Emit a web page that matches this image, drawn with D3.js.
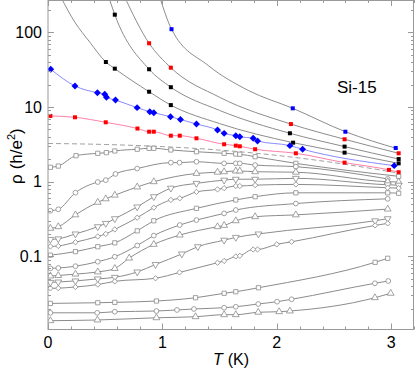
<!DOCTYPE html>
<html>
<head>
<meta charset="utf-8">
<script src="https://cdn.jsdelivr.net/npm/d3@7"></script>
<style>
  body { margin: 0; background: #fff; }
  text { font-family: "Liberation Sans", Arial, sans-serif; }
</style>
</head>
<body>
<div id="chart"></div>
<script>
// ---- data ----
// insulating side: coloured markers + gray fit lines
const c1T = [1.08, 2.14, 2.60, 3.04];
const c1Rho = [110, 9.6, 4.67, 2.83];
const c1LineT = [0.97, 1.08, 1.4, 1.75, 2.14, 2.60, 3.06];
const c1LineRho = [320, 110, 36, 16.7, 9.6, 4.67, 2.75];

const c2T = [0.884, 1.074, 2.124, 2.593, 3.066];
const c2Rho = [71.3, 33.6, 5.91, 3.70, 2.40];
const c2LineT = [0.66, 0.884, 1.074, 1.5, 2.124, 2.593, 3.066];
const c2LineRho = [320, 71.3, 33.6, 13.5, 5.91, 3.70, 2.40];

const c3T = [0.584, 0.884, 1.074, 2.115, 2.593, 3.066];
const c3Rho = [172, 32.0, 18.4, 4.45, 2.95, 2.01];
const c3LineT = [0.53, 0.584, 0.884, 1.074, 1.5, 2.115, 2.593, 3.066];
const c3LineRho = [300, 172, 32.0, 18.4, 9.0, 4.45, 2.95, 2.01];

const c4T = [0.506, 0.584, 0.884, 1.074, 2.143, 2.593, 3.066];
const c4Rho = [40, 32.6, 16.0, 10.6, 3.33, 2.45, 1.76];
const c4LineT = [0.11, 0.234, 0.365, 0.506, 0.584, 0.884, 1.074, 1.5, 2.143, 2.593, 3.066];
const c4LineRho = [300, 137, 74, 40, 32.6, 16.0, 10.6, 6.0, 3.33, 2.45, 1.76];

const blueT = [0.024, 0.236, 0.432, 0.496, 0.511, 0.590, 0.779, 0.890, 0.925, 1.071, 1.158,
  1.298, 1.482, 1.540, 1.642, 1.677, 1.794, 1.832, 2.115, 2.226, 3.027];
const blueRho = [32.0, 19.1, 15.5, 14.8, 13.5, 12.4, 9.8, 8.65, 8.39, 7.41, 6.81,
  5.92, 4.92, 4.44, 4.13, 4.00, 3.81, 3.51, 3.04, 2.72, 1.64];

const pinkT = [0.021, 0.236, 0.505, 0.782, 0.884, 0.925, 1.074, 1.152, 1.298, 1.540, 1.642,
  1.677, 1.811, 2.167, 2.593, 2.981, 3.066];
const pinkRho = [7.59, 7.28, 6.24, 5.15, 4.67, 4.67, 4.13, 4.13, 3.81, 3.17, 3.04,
  2.98, 2.72, 2.40, 1.80, 1.44, 1.34];

// separatrix (dashed)
const dashT = [0, 0.5, 1.0, 1.5, 2.0, 2.5, 3.07];
const dashRho = [3.25, 3.15, 2.95, 2.65, 2.25, 1.8, 1.3];

// metallic side: open gray markers, one T list and one rho list per curve
const m1T = [0.021, 0.09, 0.245, 0.435, 0.51, 0.584, 0.78, 0.884, 0.925, 1.074, 1.298, 1.54, 1.642, 1.677, 1.811, 2.167, 3.066];
const m1Rho = [1.56, 1.62, 2.23, 2.40, 2.45, 2.58, 2.72, 2.80, 2.80, 2.66, 2.52, 2.40, 2.35, 2.33, 2.16, 1.76, 1.18];
const m2T = [0.021, 0.09, 0.24, 0.435, 0.505, 0.59, 0.78, 1.074, 1.15, 1.298, 1.54, 1.642, 1.677, 1.811, 2.167, 2.97];
const m2Rho = [0.409, 0.427, 0.713, 0.99, 1.05, 1.27, 1.50, 1.80, 1.80, 1.85, 1.76, 1.76, 1.76, 1.67, 1.59, 1.09];
const m3T = [0.021, 0.09, 0.24, 0.435, 0.505, 0.584, 0.78, 0.925, 1.298, 1.482, 1.54, 1.642, 1.677, 1.811, 2.167, 2.97, 3.066];
const m3Rho = [0.238, 0.25, 0.36, 0.53, 0.59, 0.66, 0.85, 1.0, 1.29, 1.34, 1.36, 1.39, 1.39, 1.36, 1.34, 1.0, 0.99];
const m4T = [0.021, 0.09, 0.24, 0.435, 0.505, 0.584, 0.78, 0.925, 1.074, 1.298, 1.54, 1.642, 1.811, 2.167, 2.97, 3.066];
const m4Rho = [0.169, 0.172, 0.20, 0.25, 0.277, 0.32, 0.46, 0.63, 0.82, 0.95, 1.05, 1.08, 1.08, 1.11, 0.91, 0.90];
const m5T = [0.021, 0.09, 0.24, 0.435, 0.505, 0.584, 0.78, 0.925, 1.074, 1.152, 1.298, 1.482, 1.54, 1.642, 1.677, 1.811, 2.167, 2.97, 3.066];
const m5Rho = [0.136, 0.138, 0.155, 0.185, 0.20, 0.23, 0.33, 0.45, 0.57, 0.60, 0.73, 0.79, 0.82, 0.875, 0.875, 0.90, 0.92, 0.83, 0.82];
const m6T = [0.021, 0.24, 0.435, 0.584, 0.78, 0.925, 1.298, 1.642, 1.811, 2.167, 2.97, 3.066];
const m6Rho = [0.104, 0.116, 0.135, 0.152, 0.22, 0.30, 0.44, 0.57, 0.63, 0.71, 0.71, 0.70];
const m7T = [0.021, 0.09, 0.24, 0.435, 0.584, 0.78, 0.925, 1.152, 1.298, 1.54, 1.642, 2.167, 2.97];
const m7Rho = [0.0693, 0.070, 0.074, 0.085, 0.099, 0.14, 0.19, 0.263, 0.307, 0.377, 0.418, 0.51, 0.59];
const m8T = [0.021, 0.09, 0.24, 0.435, 0.584, 0.71, 0.925, 1.152, 1.482, 1.54, 1.642, 1.811, 2.167, 2.97];
const m8Rho = [0.0547, 0.0555, 0.058, 0.062, 0.069, 0.095, 0.145, 0.193, 0.25, 0.26, 0.30, 0.34, 0.36, 0.43];
const m9T = [0.021, 0.09, 0.24, 0.435, 0.584, 0.78, 0.94, 1.17, 1.31, 1.54, 1.642, 1.84, 2.86, 2.97];
const m9Rho = [0.045, 0.0455, 0.047, 0.050, 0.0525, 0.062, 0.078, 0.108, 0.135, 0.165, 0.18, 0.20, 0.30, 0.32];
const m10T = [0.021, 0.09, 0.24, 0.435, 0.584, 0.94, 1.15, 1.482, 1.54, 1.642, 1.677, 1.794, 1.832, 2.0, 2.13, 2.86, 2.97];
const m10Rho = [0.0374, 0.0376, 0.039, 0.042, 0.0464, 0.051, 0.061, 0.0824, 0.087, 0.10, 0.102, 0.124, 0.124, 0.145, 0.157, 0.26, 0.277];
const m11T = [0.021, 0.435, 0.584, 0.948, 1.29, 1.54, 1.642, 1.84, 2.86, 2.97];
const m11Rho = [0.0235, 0.0240, 0.0243, 0.0253, 0.0280, 0.0321, 0.0337, 0.0381, 0.0834, 0.0944];
const m12T = [0.021, 0.43, 0.584, 0.948, 1.128, 1.276, 1.54, 1.642, 1.838, 2.003, 2.13, 2.858, 2.975];
const m12Rho = [0.0176, 0.0176, 0.0182, 0.0186, 0.0192, 0.0198, 0.0206, 0.0212, 0.0231, 0.0248, 0.0267, 0.0437, 0.0469];
const m13T = [0.021, 0.432, 0.948, 1.29, 1.54, 1.642, 1.838, 2.021, 2.115, 2.858, 2.996];
const m13Rho = [0.0138, 0.0141, 0.0151, 0.0156, 0.0166, 0.0166, 0.0179, 0.0182, 0.0186, 0.0280, 0.0321];

const metSeries = [
  [m1T, m1Rho, "square"], [m2T, m2Rho, "circle"], [m3T, m3Rho, "triangle"],
  [m4T, m4Rho, "down"], [m5T, m5Rho, "diamond"], [m6T, m6Rho, "square"],
  [m7T, m7Rho, "circle"], [m8T, m8Rho, "triangle"], [m9T, m9Rho, "down"],
  [m10T, m10Rho, "diamond"], [m11T, m11Rho, "square"], [m12T, m12Rho, "circle"],
  [m13T, m13Rho, "triangle"]
];

const xTicks = [0, 1, 2, 3];
const yTicks = [0.1, 1, 10, 100];
const sampleLabel = "Si-15";

// ---- drawing ----
const width = 415;
const height = 369;
const mLeft = 48, mRight = 414, mTop = 0, mBottom = 329.5;

const x = d3.scaleLinear().domain([0, 3.2]).range([mLeft, mRight]);
const y = d3.scaleLog().domain([Math.pow(10, -1.978), Math.pow(10, 2.432)]).range([mBottom, mTop]);

const svg = d3.select('#chart')
  .append('svg')
  .attr('width', width)
  .attr('height', height);

svg.append('clipPath')
  .attr('id', 'plot')
  .append('rect')
  .attr('x', mLeft)
  .attr('y', mTop)
  .attr('width', mRight - mLeft)
  .attr('height', mBottom - mTop);

const zip = (ts, rs) => ts.map((t, i) => [t, rs[i]]);
const line = d3.line()
  .x(d => x(d[0]))
  .y(d => y(d[1]))
  .curve(d3.curveMonotoneX);

const plot = svg.append('g').attr('clip-path', 'url(#plot)');

// gray fit lines
[[c1LineT, c1LineRho], [c2LineT, c2LineRho], [c3LineT, c3LineRho], [c4LineT, c4LineRho]]
  .forEach(([ts, rs]) => {
    plot.append('path')
      .datum(zip(ts, rs))
      .attr('d', line)
      .attr('fill', 'none')
      .attr('stroke', '#8c8c8c')
      .attr('stroke-width', 1);
  });

plot.append('path')
  .datum(zip(dashT, dashRho))
  .attr('d', line)
  .attr('fill', 'none')
  .attr('stroke', '#a0a0a0')
  .attr('stroke-width', 1)
  .attr('stroke-dasharray', '5,3');

metSeries.forEach(([ts, rs]) => {
  plot.append('path')
    .datum(zip(ts, rs))
    .attr('d', line)
    .attr('fill', 'none')
    .attr('stroke', '#8c8c8c')
    .attr('stroke-width', 1);
});

plot.append('path')
  .datum(zip(blueT, blueRho))
  .attr('d', line)
  .attr('fill', 'none')
  .attr('stroke', '#8a8aff')
  .attr('stroke-width', 1);

plot.append('path')
  .datum(zip(pinkT, pinkRho))
  .attr('d', line)
  .attr('fill', 'none')
  .attr('stroke', '#ff80a8')
  .attr('stroke-width', 1);

// markers
const shapes = {
  square: d3.symbol().type(d3.symbolSquare).size(18),
  circle: d3.symbol().type(d3.symbolCircle).size(18),
  triangle: d3.symbol().type(d3.symbolTriangle).size(20),
  down: d3.symbol().type(d3.symbolTriangle).size(20),
  diamond: d3.symbol().type(d3.symbolSquare).size(14)
};
const rot = { square: 0, circle: 0, triangle: 0, down: 180, diamond: 45 };

metSeries.forEach(([ts, rs, s]) => {
  plot.selectAll(null)
    .data(zip(ts, rs))
    .enter()
    .append('path')
    .attr('d', shapes[s]())
    .attr('transform', d => `translate(${x(d[0])},${y(d[1])}) rotate(${rot[s]})`)
    .attr('fill', 'white')
    .attr('stroke', '#8c8c8c')
    .attr('stroke-width', 0.8);
});

function squares(ts, rs, colour, size) {
  plot.selectAll(null)
    .data(zip(ts, rs))
    .enter()
    .append('rect')
    .attr('x', d => x(d[0]) - size / 2)
    .attr('y', d => y(d[1]) - size / 2)
    .attr('width', size)
    .attr('height', size)
    .attr('fill', colour);
}
squares(pinkT, pinkRho, '#ff0000', 4);
squares(c1T, c1Rho, '#0000ff', 4);
squares(c2T, c2Rho, '#ff0000', 4);
squares(c3T, c3Rho, '#000', 4);
squares(c4T, c4Rho, '#000', 4);

plot.selectAll(null)
  .data(zip(blueT, blueRho))
  .enter()
  .append('path')
  .attr('d', d3.symbol().type(d3.symbolSquare).size(24)())
  .attr('transform', d => `translate(${x(d[0])},${y(d[1])}) rotate(45)`)
  .attr('fill', '#0000ff');

// frame and ticks
const axisColour = '#9a9a9a';
svg.append('rect')
  .attr('x', mLeft)
  .attr('y', mTop + 0.5)
  .attr('width', mRight - mLeft - 0.5)
  .attr('height', mBottom - mTop - 0.5)
  .attr('fill', 'none')
  .attr('stroke', axisColour)
  .attr('stroke-width', 1);

const xMinor = d3.range(0, 3.21, 0.2);
xMinor.forEach(t => {
  const major = xTicks.some(v => Math.abs(v - t) < 1e-6);
  const len = major ? 6 : 3;
  const px = Math.round(x(t)) + 0.5;
  svg.append('line').attr('x1', px).attr('x2', px).attr('y1', mBottom).attr('y2', mBottom - len)
    .attr('stroke', axisColour);
  svg.append('line').attr('x1', px).attr('x2', px).attr('y1', mTop).attr('y2', mTop + len)
    .attr('stroke', axisColour);
});

const yMinor = [];
[0.01, 0.1, 1, 10, 100].forEach(d => {
  for (let k = 1; k < 10; k++) {
    const v = d * k;
    if (v >= y.domain()[0] && v <= y.domain()[1]) yMinor.push(v);
  }
});
yMinor.forEach(v => {
  const major = yTicks.some(t => Math.abs(t - v) / t < 1e-6);
  const len = major ? 6 : 3;
  const py = Math.round(y(v)) + 0.5;
  svg.append('line').attr('x1', mLeft).attr('x2', mLeft + len).attr('y1', py).attr('y2', py)
    .attr('stroke', axisColour);
  svg.append('line').attr('x1', mRight).attr('x2', mRight - len).attr('y1', py).attr('y2', py)
    .attr('stroke', axisColour);
});

svg.selectAll('.xl')
  .data(xTicks)
  .enter()
  .append('text')
  .attr('x', d => x(d))
  .attr('y', 348)
  .attr('text-anchor', 'middle')
  .style('font-size', '16px')
  .text(d => d);

svg.selectAll('.yl')
  .data(yTicks)
  .enter()
  .append('text')
  .attr('x', 42)
  .attr('y', d => y(d))
  .attr('dy', '0.35em')
  .attr('text-anchor', 'end')
  .style('font-size', '16px')
  .text(d => d);

const xt = svg.append('text')
  .attr('x', 213)
  .attr('y', 365)
  .style('font-size', '16px');
xt.append('tspan').style('font-style', 'italic').text('T');
xt.append('tspan').attr('dx', 5).text('(K)');

const yt = svg.append('text')
  .attr('transform', 'translate(22,184) rotate(-90)')
  .attr('text-anchor', 'start')
  .style('font-size', '17px');
yt.append('tspan').text('\u03c1');
yt.append('tspan').attr('dx', 5).text('(h/e');
yt.append('tspan').attr('dy', -7).style('font-size', '11px').text('2');
yt.append('tspan').attr('dy', 7).text(')');

svg.append('text')
  .attr('x', 337)
  .attr('y', 93)
  .style('font-size', '17px')
  .text(sampleLabel);
</script>
</body>
</html>
